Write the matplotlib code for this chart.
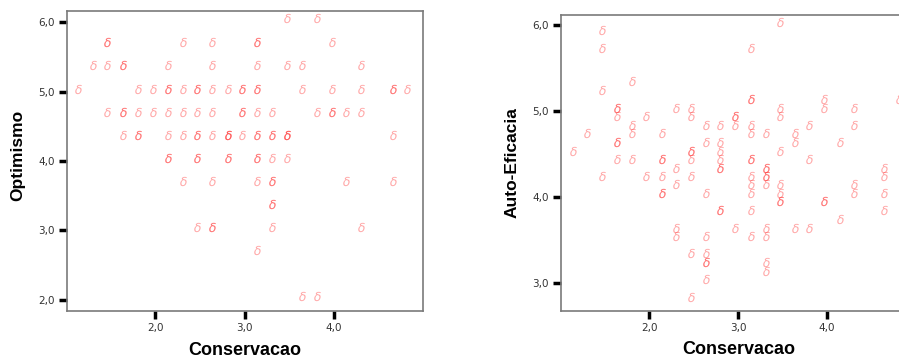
import matplotlib
matplotlib.use("Agg")
import matplotlib.pyplot as plt
from matplotlib.ticker import FuncFormatter

# Conservacao x Optimismo (left panel), one entry per point, duplicates repeat
cons_opt = [3.48, 3.81,
            1.46, 1.46, 2.31, 2.64, 3.14, 3.14, 3.98,
            1.30, 1.46, 1.64, 1.64, 2.14, 2.64, 3.14, 3.48, 3.64, 4.31,
            1.13, 1.81, 1.97, 2.14, 2.14, 2.31, 2.47, 2.47, 2.64, 2.81, 2.97, 2.97,
            3.14, 3.14, 3.64, 3.98, 4.31, 4.66, 4.66, 4.82,
            1.46, 1.64, 1.64, 1.81, 1.97, 2.14, 2.31, 2.47, 2.64, 2.97, 2.97,
            3.14, 3.31, 3.81, 3.98, 3.98, 4.14, 4.31,
            1.64, 1.81, 1.81, 2.14, 2.31, 2.47, 2.47, 2.64, 2.81, 2.81, 2.81, 2.97,
            3.14, 3.14, 3.31, 3.31, 3.48, 3.48, 3.48, 4.66,
            2.14, 2.14, 2.47, 2.47, 2.81, 2.81, 3.14, 3.14, 3.31, 3.48,
            2.31, 2.64, 3.14, 3.31, 3.31, 4.14, 4.66,
            3.31, 3.31,
            2.47, 2.64, 2.64, 3.31, 4.31,
            3.14,
            3.64, 3.81]
optimismo = [6.06] * 2 + [5.72] * 7 + [5.38] * 10 + [5.04] * 20 + [4.71] * 18 \
    + [4.37] * 20 + [4.04] * 10 + [3.71] * 7 + [3.38] * 2 + [3.05] * 5 \
    + [2.72] * 1 + [2.05] * 2

# Conservacao x Auto-Eficacia (right panel)
cons_auto = [3.47,
             1.47,
             1.47, 3.14,
             1.81,
             1.47,
             3.14, 3.14, 3.97, 4.81,
             1.64, 1.64, 2.30, 2.47, 3.47, 3.97, 4.30,
             1.64, 1.97, 2.47, 2.97, 2.97, 3.47,
             1.81, 2.64, 2.80, 2.97, 3.14, 3.80, 4.30,
             1.30, 1.81, 2.14, 3.14, 3.31, 3.64,
             1.64, 1.64, 2.64, 2.80, 3.64, 4.14,
             1.14, 2.47, 2.47, 2.80, 3.47,
             1.64, 1.81, 2.14, 2.14, 2.47, 2.80, 3.14, 3.14, 3.80,
             2.30, 2.80, 2.80, 3.31, 3.31, 4.64,
             1.47, 1.97, 2.14, 2.47, 3.14, 3.31, 3.31, 4.64,
             2.30, 3.14, 3.31, 3.47, 4.30,
             2.14, 2.14, 2.64, 3.14, 3.47, 4.30, 4.64,
             3.47, 3.47, 3.97, 3.97,
             2.80, 2.80, 3.14, 4.64,
             4.14,
             2.30, 2.97, 3.31, 3.64, 3.80,
             2.30, 2.64, 3.14, 3.31,
             2.47, 2.64,
             2.64, 2.64, 3.31,
             3.31,
             2.64,
             2.47]
auto_eficacia = [6.04] * 1 + [5.94] * 1 + [5.74] * 2 + [5.35] * 1 + [5.24] * 1 \
    + [5.14] * 4 + [5.04] * 7 + [4.94] * 6 + [4.84] * 7 + [4.74] * 6 \
    + [4.64] * 6 + [4.54] * 5 + [4.44] * 9 + [4.34] * 6 + [4.24] * 8 \
    + [4.15] * 5 + [4.04] * 7 + [3.95] * 4 + [3.85] * 4 + [3.74] * 1 \
    + [3.64] * 5 + [3.54] * 4 + [3.34] * 2 + [3.24] * 3 + [3.14] * 1 \
    + [3.04] * 1 + [2.83] * 1

x_ticks = [2.0, 3.0, 4.0]
opt_ticks = [2.0, 3.0, 4.0, 5.0, 6.0]
auto_ticks = [3.0, 4.0, 5.0, 6.0]

comma = FuncFormatter(lambda v, pos: f"{v:.1f}".replace(".", ","))


def style_axes(ax, xlabel, ylabel, ylab_y, xlab_y):
    for s in ax.spines.values():
        s.set_color("#7a7a7a")
        s.set_linewidth(1.2)
    ax.tick_params(direction="out", length=6, width=2.5, color="black",
                   labelsize=7.5, labelcolor="#333333", pad=3)
    ax.xaxis.set_major_formatter(comma)
    ax.yaxis.set_major_formatter(comma)
    ax.set_xlabel(xlabel, fontsize=13, fontweight="bold",
                  family="Liberation Sans")
    ax.set_ylabel(ylabel, fontsize=12.5, fontweight="bold",
                  family="Liberation Sans")
    ax.yaxis.set_label_coords(-0.118, ylab_y)
    ax.xaxis.set_label_coords(0.5, xlab_y)


fig = plt.figure(figsize=(8.99, 3.58), dpi=100)

# left panel
ax1 = fig.add_axes([0.0745, 0.1313, 0.396, 0.838])
ax1.scatter(cons_opt, optimismo, marker=r"$\delta$", s=45,
            color="#ff3030", alpha=0.42, linewidths=0)
ax1.set_xlim(1.01, 5.0)
ax1.set_ylim(1.84, 6.16)
ax1.set_xticks(x_ticks)
ax1.set_yticks(opt_ticks)
style_axes(ax1, "Conservacao", "Optimismo", 0.52, -0.105)

# right panel (cut off at the right edge, as in the source)
ax2 = fig.add_axes([0.624, 0.1313, 0.395, 0.827])
ax2.scatter(cons_auto, auto_eficacia, marker=r"$\delta$", s=45,
            color="#ff3030", alpha=0.42, linewidths=0)
ax2.set_xlim(1.01, 5.0)
ax2.set_ylim(2.67, 6.12)
ax2.set_xticks(x_ticks)
ax2.set_yticks(auto_ticks)
style_axes(ax2, "Conservacao", "Auto-Eficacia", 0.50, -0.10)

fig.savefig("out.png", dpi=100)
